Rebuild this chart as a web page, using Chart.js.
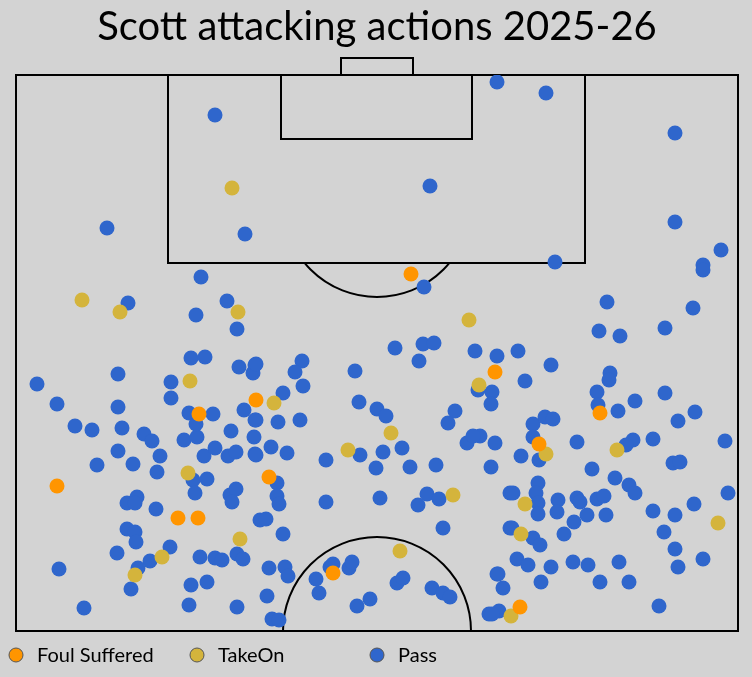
<!DOCTYPE html>
<html><head><meta charset="utf-8">
<script src="https://cdn.jsdelivr.net/npm/chart.js@4"></script>
<style>html,body{margin:0;padding:0;background:#d3d3d3;}#w{width:752px;height:677px;}</style>
</head><body><div id="w"><canvas id="c"></canvas></div>
<script>
// Pitch units: x across (16..738), y down the pitch from the goal line (75..631)
const passX = [497,546,215,675,430,107,245,675,721,703,555,201,424,128,227,196,237,191,205,239,255,253,37,118,171,171,57,118,189,213,244,255,75,92,122,144,152,184,197,196,231,254,118,160,204,215,228,236,255,97,133,157,193,207,195,127,137,135,156,230,236,232,127,135,136,117,170,150,138,200,215,222,237,243,59,131,191,207,84,189,237,260,395,423,434,419,475,497,256,302,295,303,355,283,359,377,386,256,278,300,455,448,478,492,491,271,287,326,360,383,402,467,480,473,495,376,410,436,491,256,277,277,279,326,380,427,439,418,266,283,443,510,510,269,285,288,330,333,349,352,316,319,267,272,279,357,370,397,403,432,443,450,497,503,489,499,607,693,665,599,620,518,551,525,610,609,597,665,635,598,618,695,678,533,545,553,533,577,633,626,653,725,521,539,673,680,592,703,615,629,635,728,538,536,538,538,513,558,557,577,580,597,604,587,606,574,564,653,675,694,512,533,540,664,675,678,703,517,528,551,573,588,619,498,541,600,629,659,492];
const passY = [82,93,115,133,186,228,234,222,250,265,262,277,287,303,301,315,329,358,357,367,365,373,384,374,382,398,404,407,413,414,410,420,426,430,428,434,441,440,437,424,431,437,451,456,456,448,456,452,454,465,464,472,480,479,493,503,497,503,509,495,489,502,529,532,542,553,547,561,568,557,558,560,554,559,569,589,585,582,608,605,607,520,348,344,343,361,351,356,364,361,372,386,371,393,402,409,416,420,422,420,411,423,390,392,404,447,453,460,455,452,448,443,436,436,443,468,467,465,467,455,483,496,504,502,498,494,499,505,519,534,528,528,493,568,567,576,567,564,568,562,579,593,596,619,620,606,599,583,578,588,593,597,574,588,614,611,302,308,328,331,336,351,365,381,373,380,392,393,401,405,411,412,421,424,417,419,437,442,440,445,439,441,456,460,463,462,469,270,478,485,493,493,483,493,503,514,493,500,512,498,502,499,496,515,515,522,534,511,515,504,528,538,545,532,549,567,559,559,565,567,562,565,562,574,582,582,582,606,614];
const takeOnX = [232,82,120,238,190,188,240,162,135,469,274,391,348,479,546,617,453,400,525,521,718,511];
const takeOnY = [188,300,312,312,381,473,539,557,575,320,403,433,450,385,454,450,495,551,504,534,523,616];
const foulX = [411,199,256,57,178,198,495,269,333,600,539,520];
const foulY = [274,414,400,486,518,518,372,477,573,413,444,607];
const legendLabels = ['Foul Suffered','TakeOn','Pass'];
const colors = ['#ff9500','#d4b43c','#2f66cc'];
const titleText = 'Scott attacking actions 2025-26';

const pts = (xs, ys) => xs.map((x, i) => ({x, y: ys[i]}));

const pitch = {
  id: 'pitch',
  beforeDatasetsDraw(ch) {
    const c = ch.ctx, X = ch.scales.x, Y = ch.scales.y;
    const px = v => X.getPixelForValue(v), py = v => Y.getPixelForValue(v);
    c.save();
    c.strokeStyle = '#000'; c.lineWidth = 2;
    const rect = (x0,y0,x1,y1) => c.strokeRect(px(x0), py(y0), px(x1)-px(x0), py(y1)-py(y0));
    rect(16,75,738,631);
    rect(168,75,585,263);
    rect(281,75,472,139);
    rect(341,58,413,75);
    const r = px(471) - px(377);
    c.save(); c.beginPath(); c.rect(0, py(263), 752, 200); c.clip();
    c.beginPath(); c.arc(px(377), py(203), r, 0, Math.PI*2); c.stroke(); c.restore();
    c.save(); c.beginPath(); c.rect(0, 0, 752, py(631)); c.clip();
    c.beginPath(); c.arc(px(377), py(631), r, 0, Math.PI*2); c.stroke(); c.restore();
    c.restore();
  },
  afterDraw(ch) {
    const c = ch.ctx;
    c.save();
    c.fillStyle = '#000';
    c.font = '40px Lato';
    c.textAlign = 'center'; c.textBaseline = 'middle';
    c.fillText(titleText, 377, 27);
    c.font = '20px Lato'; c.textAlign = 'left';
    const lx = [16, 197, 377];
    legendLabels.forEach((l, i) => {
      c.beginPath(); c.arc(lx[i], 655, 7, 0, Math.PI*2);
      c.fillStyle = colors[i]; c.fill();
      c.strokeStyle = '#555'; c.lineWidth = 1; c.stroke();
      c.fillStyle = '#000'; c.fillText(l, lx[i] + 21, 656);
    });
    c.restore();
  }
};

new Chart(document.getElementById('c'), {
  type: 'scatter',
  data: { datasets: [
    {label: legendLabels[0], data: pts(foulX, foulY), backgroundColor: colors[0], borderColor: colors[0]},
    {label: legendLabels[1], data: pts(takeOnX, takeOnY), backgroundColor: colors[1], borderColor: colors[1]},
    {label: legendLabels[2], data: pts(passX, passY), backgroundColor: colors[2], borderColor: colors[2]}
  ]},
  options: {
    responsive: true, maintainAspectRatio: false, animation: false,
    layout: {padding: {left: 16, right: 14, top: 75, bottom: 46}},
    elements: {point: {radius: 7.5, borderWidth: 0, hoverRadius: 7.5}},
    scales: {
      x: {type: 'linear', min: 16, max: 738, display: false},
      y: {type: 'linear', min: 75, max: 631, reverse: true, display: false}
    },
    plugins: {legend: {display: false}, tooltip: {enabled: false}}
  },
  plugins: [pitch]
});
</script></body></html>
